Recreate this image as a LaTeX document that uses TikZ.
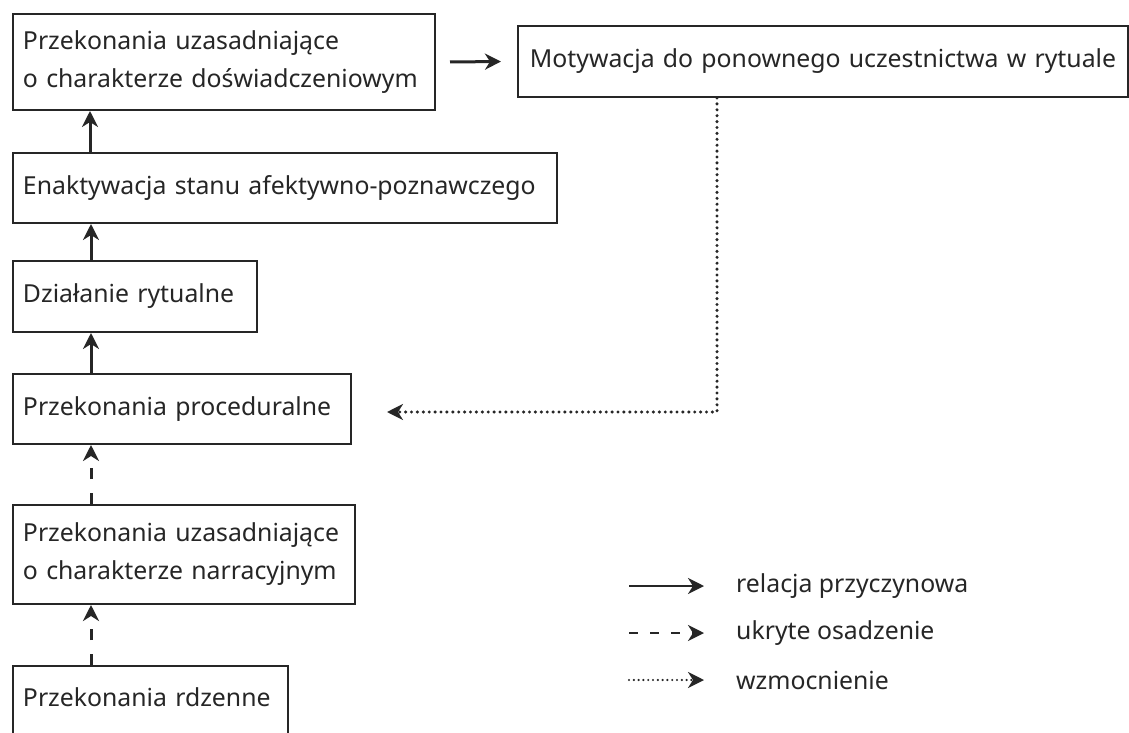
\documentclass[tikz,border=0pt]{standalone}
\usepackage{fontspec}
\setmainfont{Noto Sans}
\usetikzlibrary{arrows.meta,calc}
\definecolor{ink}{HTML}{262626}
\begin{document}
\begin{tikzpicture}[x=1pt,y=-1pt,
  every node/.style={font=\fontsize{24.8}{38}\selectfont, text=ink},
  pbox/.style={draw=ink, line width=2pt, anchor=north west, inner xsep=10pt, inner ysep=0pt, align=left},
  tip/.style={-{Stealth[length=16pt,width=16pt,inset=5pt]}},
  causal/.style={tip, draw=ink, line width=3pt},
  hidden/.style={tip, draw=ink, line width=3pt, dash pattern=on 11pt off 14pt},
  reinf/.style={tip, draw=ink, line width=3.4pt, line cap=round, dash pattern=on 0pt off 5.9pt},
  legtxt/.style={anchor=west, inner sep=0pt}
]
\clip (0,0) rectangle (1129,733);
\fill[white] (0,0) rectangle (1129,733);

\node[pbox, text width=402pt, minimum height=96pt] (b1) at (12,13)
  {Przekonania uzasadniające\\o charakterze doświadczeniowym};
\node[pbox, text width=590pt, minimum height=71pt, align=center] (m) at (517,25)
  {Motywacja do ponownego uczestnictwa w rytuale};
\node[pbox, text width=524pt, minimum height=70pt] (b2) at (12,152)
  {Enaktywacja stanu afektywno-poznawczego};
\node[pbox, text width=224pt, minimum height=71pt] (b3) at (12,260)
  {Działanie rytualne};
\node[pbox, text width=318pt, minimum height=70pt] (b4) at (12,373)
  {Przekonania proceduralne};
\node[pbox, text width=322pt, minimum height=99pt] (b5) at (12,504)
  {Przekonania uzasadniające\\o charakterze narracyjnym};
\node[pbox, text width=255pt, minimum height=68pt, anchor=north west] (b6) at (12,665)
  {Przekonania rdzenne\vphantom{g}};
% extend bottom box beyond the page edge
\draw[ink, line width=2pt] (b6.south west) -- ++(0,20);
\draw[ink, line width=2pt] (b6.south east) -- ++(0,20);

\draw[causal] ([xshift=78pt]b2.north west) -- ([xshift=78pt]b1.south west);
\draw[causal] ([xshift=79pt]b3.north west) -- ([xshift=79pt]b2.south west);
\draw[causal] ([xshift=79pt]b4.north west) -- ([xshift=79pt]b3.south west);
\draw[hidden] ([xshift=79pt]b5.north west) -- ([xshift=79pt]b4.south west);
\draw[hidden] ([xshift=79pt]b6.north west) -- ([xshift=79pt]b5.south west);
\draw[causal] ([xshift=14pt]b1.east) -- ([xshift=-16pt]m.west);
\draw[reinf] ([xshift=200pt]m.south west) |- ([xshift=35pt,yshift=-3pt]b4.east);

% legend
\coordinate (l1a) at (629,586); \coordinate (l1b) at (704,586);
\coordinate (l2a) at (629,633); \coordinate (l2b) at (704,633);
\coordinate (l3a) at (629,680); \coordinate (l3b) at (704,680);
\draw[causal, line width=2.6pt] (l1a) -- (l1b);
\draw[hidden, line width=2.6pt, dash pattern=on 9pt off 12pt] (l2a) -- (l2b);
\draw[reinf, line width=2.4pt, dash pattern=on 0pt off 4.8pt] (l3a) -- (l3b);
\node[legtxt] (t1) at (736,586) {relacja przyczynowa};
\node[legtxt] (t2) at (736,633) {ukryte osadzenie};
\node[legtxt] (t3) at (736,680) {wzmocnienie};
\end{tikzpicture}
\end{document}
